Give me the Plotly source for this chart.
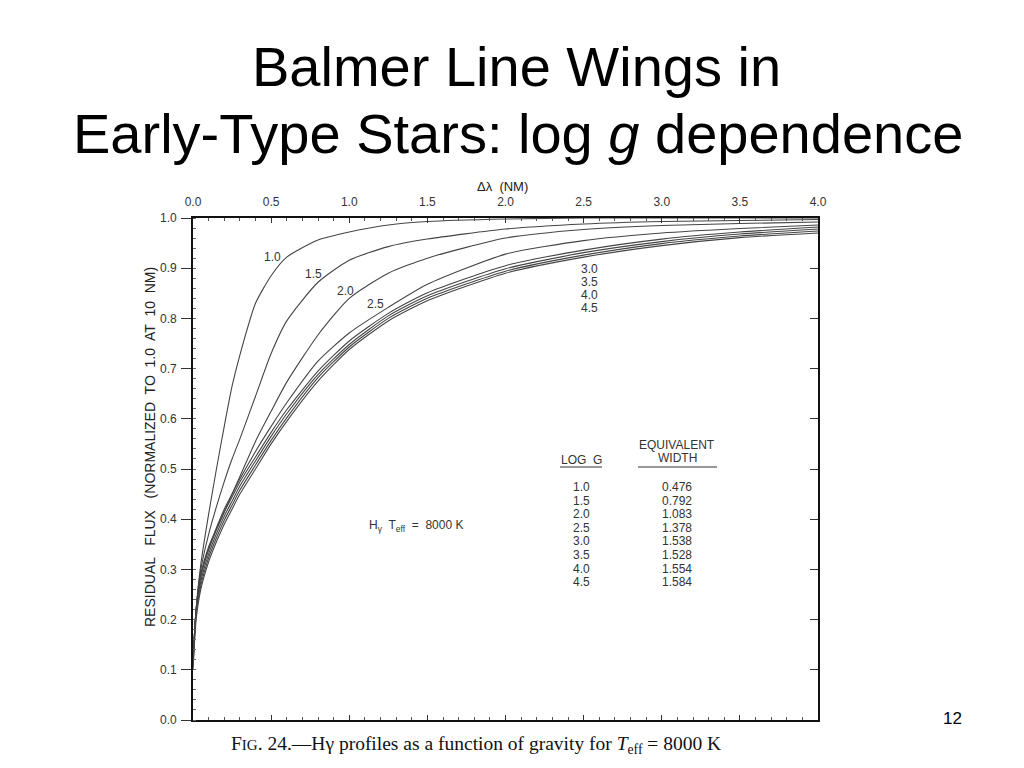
import plotly.graph_objects as go

# ---------------- data ----------------
delta_lambda = [0.0, 0.02, 0.05, 0.1, 0.15, 0.2, 0.25, 0.3, 0.4, 0.5, 0.6, 0.8, 1.0, 1.25, 1.5, 2.0, 2.5, 3.0, 3.5, 4.0]

flux_logg_1_0 = [0.12, 0.22, 0.31, 0.41, 0.50, 0.585, 0.665, 0.727, 0.83, 0.885, 0.922, 0.956, 0.972, 0.986, 0.993, 0.998, 1.0, 1.0, 1.0, 1.0]
flux_logg_1_5 = [0.12, 0.22, 0.30, 0.37, 0.425, 0.475, 0.52, 0.56, 0.645, 0.73, 0.795, 0.872, 0.916, 0.943, 0.958, 0.978, 0.988, 0.993, 0.995, 0.997]
flux_logg_2_0 = [0.12, 0.22, 0.29, 0.345, 0.38, 0.415, 0.45, 0.485, 0.555, 0.615, 0.673, 0.767, 0.84, 0.89, 0.92, 0.96, 0.977, 0.985, 0.989, 0.992]
flux_logg_2_5 = [0.12, 0.22, 0.29, 0.342, 0.383, 0.42, 0.45, 0.48, 0.535, 0.585, 0.632, 0.715, 0.771, 0.822, 0.868, 0.928, 0.955, 0.970, 0.979, 0.986]
flux_logg_3_0 = [0.115, 0.22, 0.284, 0.339, 0.379, 0.414, 0.444, 0.474, 0.524, 0.573, 0.618, 0.695, 0.755, 0.81, 0.851, 0.905, 0.936, 0.958, 0.972, 0.982]
flux_logg_3_5 = [0.11, 0.215, 0.276, 0.331, 0.371, 0.406, 0.436, 0.466, 0.516, 0.565, 0.61, 0.688, 0.748, 0.805, 0.845, 0.899, 0.931, 0.953, 0.968, 0.978]
flux_logg_4_0 = [0.105, 0.21, 0.268, 0.323, 0.363, 0.398, 0.428, 0.458, 0.508, 0.557, 0.602, 0.682, 0.743, 0.80, 0.84, 0.894, 0.926, 0.949, 0.964, 0.974]
flux_logg_4_5 = [0.10, 0.20, 0.26, 0.315, 0.355, 0.39, 0.42, 0.45, 0.50, 0.55, 0.595, 0.675, 0.738, 0.795, 0.835, 0.89, 0.922, 0.945, 0.961, 0.970]

curves = [
    ("1.0", flux_logg_1_0), ("1.5", flux_logg_1_5), ("2.0", flux_logg_2_0),
    ("2.5", flux_logg_2_5), ("3.0", flux_logg_3_0), ("3.5", flux_logg_3_5),
    ("4.0", flux_logg_4_0), ("4.5", flux_logg_4_5),
]

table_log_g = ["1.0", "1.5", "2.0", "2.5", "3.0", "3.5", "4.0", "4.5"]
table_eq_width = ["0.476", "0.792", "1.083", "1.378", "1.538", "1.528", "1.554", "1.584"]

x_ticks = [0.0, 0.5, 1.0, 1.5, 2.0, 2.5, 3.0, 3.5, 4.0]
y_ticks = [0.0, 0.1, 0.2, 0.3, 0.4, 0.5, 0.6, 0.7, 0.8, 0.9, 1.0]

# ---------------- figure ----------------
OFF = 8                      # page body margin of the html page
W, H = 1024 - 2 * OFF, 768 - 2 * OFF
L, R, T, B = 193, 818, 218, 720   # plot area in page pixels


def px(xp, yp):
    return (xp - L) / (R - L), (B - yp) / (B - T)


fig = go.Figure()
for name, ys in curves:
    fig.add_trace(go.Scatter(
        x=delta_lambda, y=ys, mode="lines", name=name,
        line=dict(color="#454545", width=1.1, shape="spline", smoothing=0.6),
        showlegend=False, hoverinfo="skip",
    ))

SANS = "Liberation Sans, Arial, sans-serif"
scan_font = dict(family=SANS, size=12, color="#333333")

annotations = []


def add_text(txt, xp, yp, font=scan_font, xanchor="center", **kw):
    ax_, ay_ = px(xp, yp)
    annotations.append(dict(x=ax_, y=ay_, xref="paper", yref="paper", text=txt, showarrow=False,
                            font=font, xanchor=xanchor, yanchor="middle", **kw))


# curve labels
for txt, xp, yp in [("1.0", 272, 257), ("1.5", 313, 274), ("2.0", 345, 291), ("2.5", 375, 304),
                     ("3.0", 589, 269), ("3.5", 589, 282), ("4.0", 589, 295), ("4.5", 589, 308)]:
    add_text(txt, xp, yp)

# table headers
add_text("LOG  G", 581, 460)
add_text("EQUIVALENT", 677, 445)
add_text("WIDTH", 677, 458)
# table rows
for i, (lg, ew) in enumerate(zip(table_log_g, table_eq_width)):
    yp = 487 + i * 13.6
    add_text(lg, 581, yp)
    add_text(ew, 677, yp)

# H gamma label
add_text("H<sub>γ</sub>  T<sub>eff</sub>  =  8000 K", 367, 526, xanchor="left")

# axis titles
add_text("Δλ  (NM)", 502, 186, font=dict(family=SANS, size=13, color="#222222"))
add_text("RESIDUAL   FLUX   (NORMALIZED  TO  1.0  AT  10  NM)", 150, 447,
         font=dict(family=SANS, size=14, color="#222222"), textangle=-90)

# slide title
title_font = dict(family=SANS, size=56, color="#000000")
add_text("Balmer Line Wings in", 516, 66, font=title_font)
add_text("Early-Type Stars: log <i>g</i> dependence", 518, 134, font=title_font)

# caption
add_text("F<span style='font-size:15px'>IG</span>. 24.—Hγ profiles as a function of gravity for "
         "<i>T</i><sub>eff</sub> = 8000 K", 476, 745,
         font=dict(family="Liberation Serif, Times New Roman, serif", size=19.5, color="#111111"))
# page number
add_text("12", 952, 718, font=dict(family=SANS, size=17, color="#000000"))

# underlines of table headers
shapes = []
for x0p, x1p in [(560, 602), (638, 717)]:
    a0, b0 = px(x0p, 467)
    a1, _ = px(x1p, 467)
    shapes.append(dict(type="line", xref="paper", yref="paper", x0=a0, x1=a1, y0=b0, y1=b0,
                       line=dict(color="#333333", width=1)))

fig.update_layout(
    width=W, height=H,
    margin=dict(l=L - OFF, r=W - (R - OFF), t=T - OFF, b=H - (B - OFF), pad=0, autoexpand=False),
    paper_bgcolor="white", plot_bgcolor="white",
    annotations=annotations, shapes=shapes,
    showlegend=False,
    xaxis=dict(
        range=[0, 4], side="top", tickvals=x_ticks, ticktext=[f"{v:.1f}" for v in x_ticks],
        ticks="inside", ticklen=5, tickcolor="#333", tickwidth=1, ticklabelstandoff=5,
        minor=dict(dtick=0.1, ticks="inside", ticklen=3, tickcolor="#555"),
        showline=True, linecolor="#111", linewidth=1.6, mirror="ticks",
        showgrid=False, zeroline=False, tickfont=scan_font,
    ),
    yaxis=dict(
        range=[0, 1.0], tickvals=y_ticks, ticktext=[f"{v:.1f}" for v in y_ticks],
        ticks="outside", ticklen=10, tickcolor="#333", tickwidth=1, ticklabelstandoff=2,
        minor=dict(dtick=0.02, ticks="inside", ticklen=3, tickcolor="#666"),
        showline=True, linecolor="#111", linewidth=1.6, mirror=True,
        showgrid=False, zeroline=False, tickfont=scan_font,
    ),
    yaxis2=dict(
        range=[0, 1.0], overlaying="y", side="right", tickvals=y_ticks, showticklabels=False,
        ticks="inside", ticklen=8, tickcolor="#333", showgrid=False, zeroline=False, showline=False,
    ),
)

# invisible trace to activate yaxis2
fig.add_trace(go.Scatter(x=[0], y=[0], yaxis="y2", mode="markers", marker=dict(opacity=0),
                         showlegend=False, hoverinfo="skip"))

fig.write_html("out.html")
